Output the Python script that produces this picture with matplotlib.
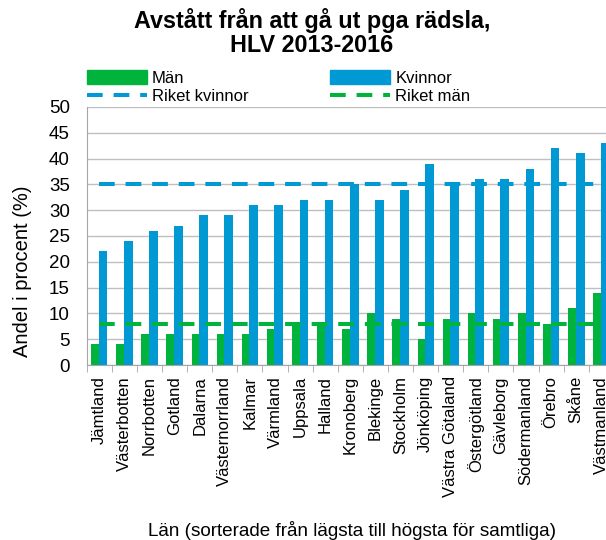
import matplotlib
matplotlib.use("Agg")
from matplotlib import pyplot as plt
from matplotlib.patches import Patch
from matplotlib.lines import Line2D
import numpy as np

plt.rcParams["font.family"] = ["Liberation Sans", "DejaVu Sans"]

LAN = ["Jämtland", "Västerbotten", "Norrbotten", "Gotland", "Dalarna",
       "Västernorrland", "Kalmar", "Värmland", "Uppsala", "Halland",
       "Kronoberg", "Blekinge", "Stockholm", "Jönköping", "Västra Götaland",
       "Östergötland", "Gävleborg", "Södermanland", "Örebro", "Skåne",
       "Västmanland"]
MAN = [4, 4, 6, 6, 6, 6, 6, 7, 8, 8, 7, 10, 9, 5, 9, 10, 9, 10, 8, 11, 14]
KVINNOR = [22, 24, 26, 27, 29, 29, 31, 31, 32, 32, 35, 32, 34, 39, 35, 36,
           36, 38, 42, 41, 43]
RIKET_KVINNOR = 35
RIKET_MAN = 8

GREEN = "#00B33C"
BLUE = "#0099D4"
GRID = "#BFBFBF"

fig = plt.figure(figsize=(6.06, 5.4), dpi=100)
# the reference chart is cropped on the right: the last category runs past the edge
ax = fig.add_axes([0.143, 0.324, 0.870, 0.478])

x = np.arange(len(LAN))
ax.bar(x - 0.32, MAN, width=0.30, align="edge", color=GREEN, zorder=2)
ax.bar(x - 0.02, KVINNOR, width=0.35, align="edge", color=BLUE, zorder=2)
dash = dict(linewidth=2.9, dashes=(3.9, 2.7), dash_capstyle="butt", zorder=3)
ax.plot(x, [RIKET_KVINNOR] * len(x), color=BLUE, **dash)
ax.plot(x, [RIKET_MAN] * len(x), color=GREEN, **dash)

ax.set_xlim(-0.5, len(LAN) - 0.5)
ax.set_ylim(0, 50)
ax.set_yticks(range(0, 51, 5))
ax.yaxis.grid(True, color=GRID, linewidth=1, zorder=0)
ax.set_axisbelow(True)
ax.set_xticks(x)
ax.set_xticklabels(LAN, rotation=90, fontsize=12)
ax.set_xticks(np.arange(-0.5, len(LAN), 1), minor=True)
ax.tick_params(axis="x", which="major", length=0, pad=8)
ax.tick_params(axis="x", which="minor", length=5, color="#A6A6A6")
ax.tick_params(axis="y", length=0, labelsize=13.5, pad=12)
for side in ("top", "right"):
    ax.spines[side].set_visible(False)
for side in ("left", "bottom"):
    ax.spines[side].set_color("#A6A6A6")

fig.text(0.515, 0.985, "Avstått från att gå ut pga rädsla,\nHLV 2013-2016",
         ha="center", va="top", fontsize=16.8, fontweight="bold",
         linespacing=1.05)
fig.text(0.037, 0.498, "Andel i procent (%)", rotation=90, ha="center",
         va="center", fontsize=14.5)
fig.text(0.581, 0.017, "Län (sorterade från lägsta till högsta för samtliga)",
         ha="center", va="center", fontsize=13.6)

handles = [Patch(color=GREEN),
           Line2D([], [], color=BLUE, **dash),
           Patch(color=BLUE),
           Line2D([], [], color=GREEN, **dash)]
labels = ["Män", "Riket kvinnor", "Kvinnor", "Riket män"]
fig.legend(handles, labels, ncol=2, loc="upper left",
           bbox_to_anchor=(0.13, 0.885), frameon=False, fontsize=12,
           handlelength=3.6, handleheight=0.9, handletextpad=0.3,
           columnspacing=4.9, labelspacing=0.15, borderpad=0)

fig.savefig("out.png", dpi=100)
